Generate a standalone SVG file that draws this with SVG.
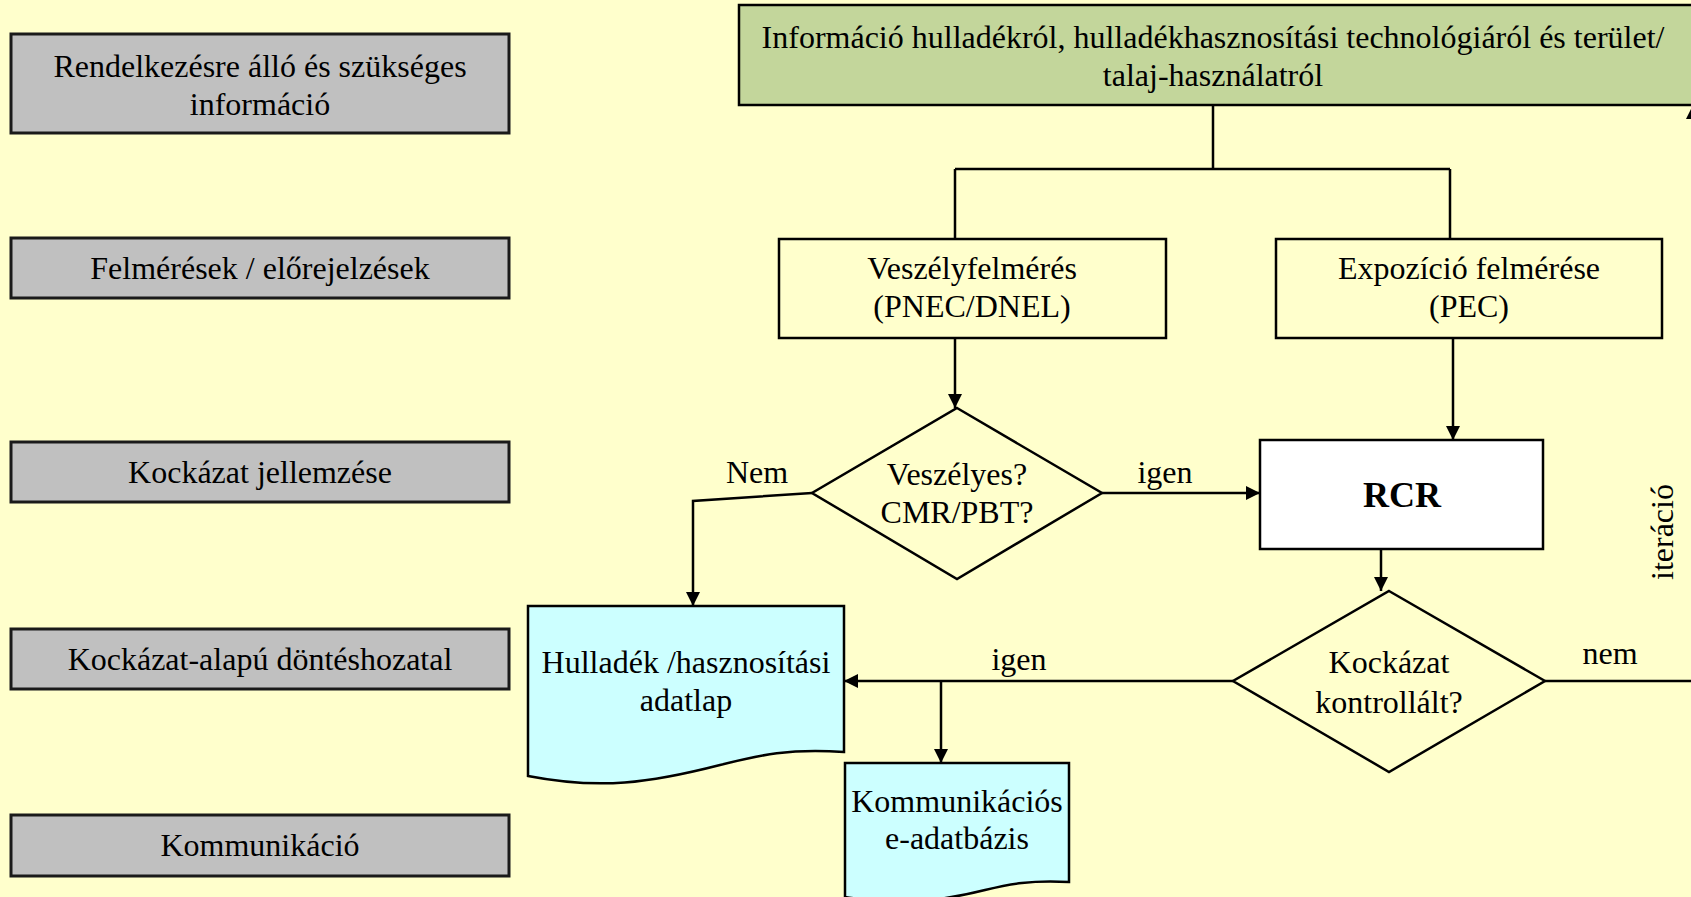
<svg xmlns="http://www.w3.org/2000/svg" width="1691" height="897" viewBox="0 0 1691 897">
<defs>
<style>
text{font-family:"Liberation Serif","Times New Roman",serif;font-size:32px;fill:#000;text-anchor:middle}
.side{fill:#c0c0c0;stroke:#1a1a1a;stroke-width:3}
.box{fill:#ffffcc;stroke:#000;stroke-width:2.5}
.green{fill:#c3d69b;stroke:#000;stroke-width:2.5}
.doc{fill:#ccffff;stroke:#000;stroke-width:2.5}
.dia{fill:#ffffcc;stroke:#000;stroke-width:2.5}
.ln{fill:none;stroke:#000;stroke-width:2.5}
.arr{fill:none;stroke:#000;stroke-width:2.5;marker-end:url(#ah)}
</style>
<marker id="ah" viewBox="0 0 14 20" refX="14" refY="10" markerWidth="14" markerHeight="20" markerUnits="userSpaceOnUse" orient="auto">
<path d="M0,3 L14,10 L0,17 Z" fill="#000"/>
</marker>
</defs>
<rect width="1691" height="897" fill="#ffffcc"/>

<g id="side1"><rect class="side" x="11" y="34" width="498" height="99"/><text x="260" y="77">Rendelkezésre álló és szükséges</text><text x="260" y="115">információ</text></g>
<g id="side2"><rect class="side" x="11" y="238" width="498" height="60"/><text x="260" y="279">Felmérések / előrejelzések</text></g>
<g id="side3"><rect class="side" x="11" y="442" width="498" height="60"/><text x="260" y="483">Kockázat jellemzése</text></g>
<g id="side4"><rect class="side" x="11" y="629" width="498" height="60"/><text x="260" y="670">Kockázat-alapú döntéshozatal</text></g>
<g id="side5"><rect class="side" x="11" y="815" width="498" height="61"/><text x="260" y="856">Kommunikáció</text></g>

<g id="info"><rect class="green" x="739" y="5" width="970" height="100"/><text x="1213" y="48">Információ hulladékról, hulladékhasznosítási technológiáról és terület/</text><text x="1213" y="86">talaj-használatról</text></g>

<g id="connectors">
<path class="ln" d="M1213,105 V169 M955,169 H1450 M955,169 V239 M1450,169 V239"/>
<path class="arr" d="M955,338 V408"/>
<path class="arr" d="M1453,338 V440"/>
<path class="arr" d="M1102,493 H1260"/>
<path class="arr" d="M812,493 L693,501 V606"/>
<path class="arr" d="M1381,549 V591"/>
<path class="arr" d="M1233,681 H844"/>
<path class="arr" d="M941,681 V763"/>
<path class="arr" d="M1545,681 H1693 V105"/>
</g>

<g id="haz"><rect class="box" x="779" y="239" width="387" height="99"/><text x="972" y="279">Veszélyfelmérés</text><text x="972" y="317">(PNEC/DNEL)</text></g>
<g id="exp"><rect class="box" x="1276" y="239" width="386" height="99"/><text x="1469" y="279">Expozíció felmérése</text><text x="1469" y="317">(PEC)</text></g>

<g id="d1"><path class="dia" d="M957,408 L1102,493 L957,579 L812,493 Z"/><text x="957" y="485">Veszélyes?</text><text x="957" y="523">CMR/PBT?</text></g>
<text x="757" y="483">Nem</text>
<text x="1165" y="483">igen</text>

<g id="rcr"><rect x="1260" y="440" width="283" height="109" fill="#fff" stroke="#000" stroke-width="2.5"/><text x="1402" y="507" font-weight="bold" style="font-size:36px">RCR</text></g>

<g id="d2"><path class="dia" d="M1389,591 L1545,681 L1389,772 L1233,681 Z"/><text x="1389" y="673">Kockázat</text><text x="1389" y="713">kontrollált?</text></g>
<text x="1610" y="664">nem</text>
<text x="1019" y="670">igen</text>

<g id="hull"><path class="doc" d="M528,606 H844 V752 C790,748 760,755 720,765 C650,783 600,790 528,776 Z"/><text x="686" y="673">Hulladék /hasznosítási</text><text x="686" y="711">adatlap</text></g>
<g id="komm"><path class="doc" d="M845,763 H1069 V882 C1030,880 1010,884 985,890 C930,904 890,904 845,897 Z"/><text x="957" y="812">Kommunikációs</text><text x="957" y="849">e-adatbázis</text></g>

<text transform="translate(1673,532) rotate(-90)">iteráció</text>
</svg>
